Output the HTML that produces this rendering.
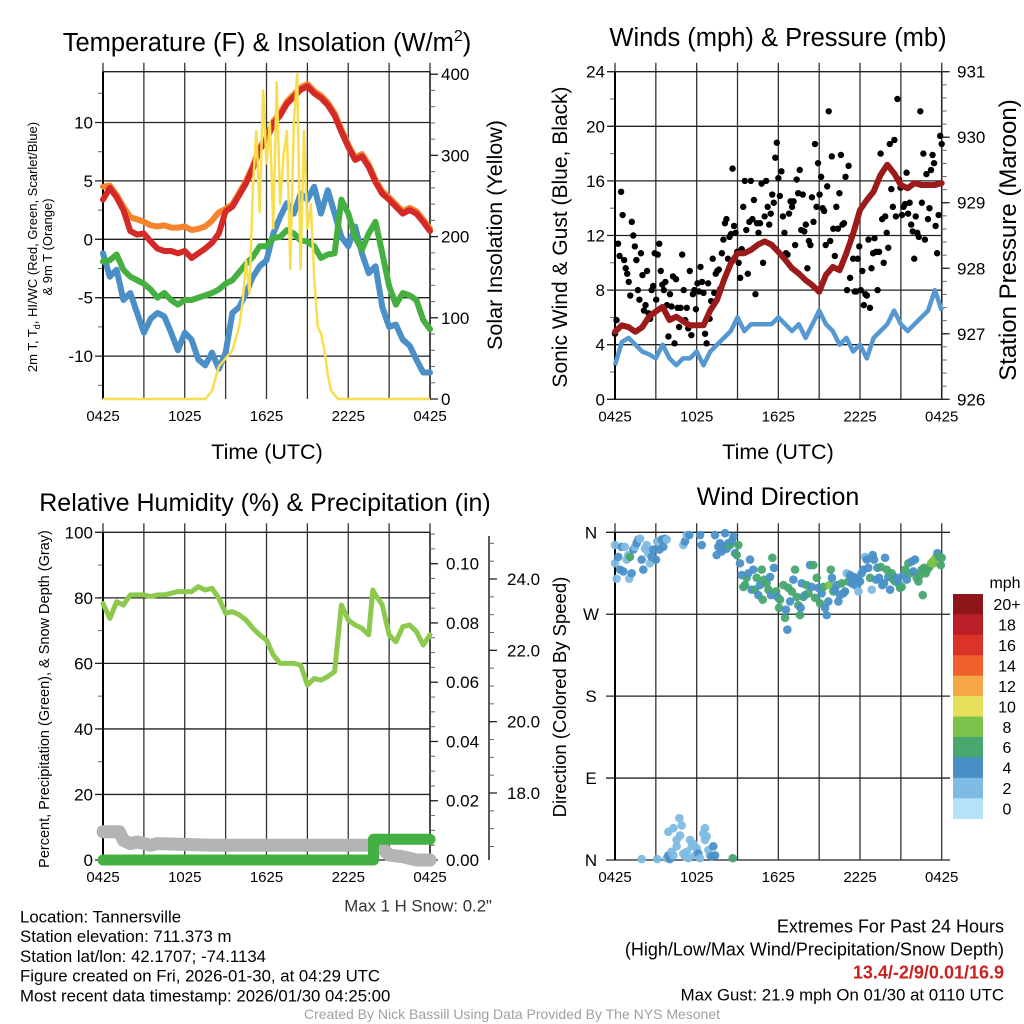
<!DOCTYPE html>
<html><head><meta charset="utf-8"><style>
html,body{margin:0;padding:0;background:#fff;}
svg{display:block;font-family:"Liberation Sans",Arial,sans-serif;}
</style></head><body>
<svg id="chart" width="1024" height="1024" viewBox="0 0 1024 1024" xmlns="http://www.w3.org/2000/svg">
<rect x="0" y="0" width="1024" height="1024" fill="#fff"/>
<text x="267" y="51" font-size="25.5" text-anchor="middle">Temperature (F) &amp; Insolation (W/m<tspan font-size="16" dy="-10">2</tspan><tspan dy="10">)</tspan></text>
<text x="778" y="46" font-size="25.5" text-anchor="middle">Winds (mph) &amp; Pressure (mb)</text>
<text x="265" y="511" font-size="25" text-anchor="middle">Relative Humidity (%) &amp; Precipitation (in)</text>
<text x="778" y="505" font-size="25" text-anchor="middle">Wind Direction</text>
<g id="layer"></g>
<g font-size="16.8">
<text x="20" y="922.5">Location: Tannersville</text>
<text x="20" y="942.2">Station elevation: 711.373 m</text>
<text x="20" y="961.9">Station lat/lon: 42.1707; -74.1134</text>
<text x="20" y="981.6">Figure created on Fri, 2026-01-30, at 04:29 UTC</text>
<text x="20" y="1001.3">Most recent data timestamp: 2026/01/30 04:25:00</text>
</g>
<g font-size="18" text-anchor="end">
<text x="1004" y="932.7">Extremes For Past 24 Hours</text>
<text x="1004" y="955.5">(High/Low/Max Wind/Precipitation/Snow Depth)</text>
<text x="1004" y="978.5" fill="#cc2020" font-weight="bold">13.4/-2/9/0.01/16.9</text>
<text x="1004" y="1000.5" font-size="16.8">Max Gust: 21.9 mph On 01/30 at 0110 UTC</text>
</g>
<text x="512" y="1019" font-size="14" fill="#a0a0a0" text-anchor="middle">Created By Nick Bassill Using Data Provided By The NYS Mesonet</text>
<text x="492" y="911.5" font-size="16.8" fill="#333" text-anchor="end">Max 1 H Snow: 0.2"</text>
</svg>
<script>
// ---------- data ----------
const xTickLabels = ["0425","1025","1625","2225","0425"];
const tempRed = [3.4,4.4,3.6,2.5,0.7,0.4,0.5,-0.2,-0.8,-1,-1,-1.2,-1,-1.6,-1.2,-0.8,-0.3,0.5,2.4,2.8,3.8,4.8,6.1,7.7,8.5,9.9,10.6,11.6,12.2,12.8,13.1,12.5,12.1,11.5,10.6,9.2,7.9,6.8,7.1,6.2,4.9,3.9,3.4,2.8,2.2,2.5,2.2,1.5,0.7];
const temp9mOrange = [4.5,4.6,3.8,2.8,1.9,1.7,1.5,1.2,1.1,1.2,1.0,1.0,1.1,0.8,0.9,1.1,1.6,2.3,2.6,3.0,4.0,5.0,6.3,7.9,8.7,10.1,10.8,11.8,12.4,13.0,13.3,12.7,12.3,11.7,10.8,9.4,8.1,7.0,7.3,6.4,5.1,4.1,3.6,3.0,2.4,2.7,2.4,1.7,0.9];
const dewGreen = [-1.9,-1.8,-1.3,-2.6,-3.2,-3.5,-3.8,-4.3,-5,-4.6,-5.2,-5.6,-5.2,-5.2,-5,-4.8,-4.6,-4.3,-3.8,-3.5,-2.8,-2.1,-1.5,-0.6,-0.6,0.1,0.2,0.8,0.5,-0.1,-0.2,-0.6,-1.6,-1.3,-1.2,3.4,2.2,0.2,-0.9,0.5,1.5,-1.2,-4,-5.6,-4.6,-4.8,-5.2,-6.9,-7.7];
const chillBlue = [-1.2,-3.2,-2.6,-5.2,-4.6,-6.3,-8,-6.8,-6.3,-6.6,-8,-9.5,-8,-8.6,-10.3,-10.8,-9.7,-11.1,-9.7,-6.3,-5.8,-4.6,-3.2,-2.3,-1.8,0.5,1.9,3.1,2.2,3.9,3.4,4.5,2.2,4.2,2.2,0.2,-0.6,1.1,-1.2,-2.9,-2.3,-5.8,-7.5,-7.3,-8.6,-9.1,-10.3,-11.4,-11.4];
const solarHours = [0,7.5,8,8.5,9,9.5,10,10.25,10.5,10.75,11,11.25,11.5,11.75,12,12.25,12.5,12.75,13,13.25,13.5,13.75,14,14.25,14.5,14.75,15,15.25,15.5,15.75,16,16.25,16.5,16.75,17,17.25,24];
const solarValues = [0,0,10,40,50,60,90,120,170,130,260,330,230,380,290,340,210,390,240,300,330,160,340,400,160,330,210,240,150,90,80,60,30,10,5,0,0];
const windSpeed = [2.5,4.2,4.5,4,3.5,3.3,3,4,3,2.5,3,3,3.5,2.5,3.5,4,4.5,5,6,5,5.5,5.5,5.5,5.5,6,5.5,5,5.5,4.5,5.5,6.5,5.5,5,4,4.5,3.5,4,3,4.5,5,5.5,6.5,5.5,5,5.5,6,6.5,8,6.5];
const gustValues = [4.8,5.8,11.4,10.5,15.2,13.5,10.2,9.6,9.2,8.6,7.6,13,12,11.2,10.2,8,7.3,10.7,9.1,6.5,6.9,9.4,6.3,5.9,8,8.3,10.7,7.3,10.6,11.4,9.4,8.4,8,8.6,6.9,4.6,7.7,6.8,9,4.1,8.8,6.7,5.3,6.7,10.6,8,5.8,6.7,5.2,9.4,4.7,7.7,8,6.6,8.5,7.9,9.7,8.6,7.8,4.8,4.1,8.5,5.9,7.2,10.3,7.8,9.2,9.4,9.5,8.1,10.7,11.7,12.9,13.2,10.3,11.9,12.1,16.9,12.7,12.2,10.8,10,8.9,11,14.1,16,12.4,9.2,13,16,13.2,14.6,7.7,12.9,12.2,12.9,15.8,10,13.4,16,14.1,12.8,13.6,15,14.4,17.7,18.8,16.2,14.9,16.7,13.4,12.2,10.7,10.6,13.6,14.5,14.1,14.5,11.3,16.1,15.1,16.8,12.4,15,12.3,12.8,9.6,11.6,11.3,14.8,13,18.7,14.1,17.3,15,16.3,14,13.8,11.3,15.6,21.1,11.6,17.8,12.5,10.5,14.1,12.5,15.1,17.9,12.8,12.9,16.3,8,17.1,8.9,11.9,10.3,7.9,7.9,10.3,11.2,8,9.4,6.9,7.7,7.6,11.7,6.7,9.6,10.7,11.8,10.8,8,10.8,18,13.2,10,13.4,12.2,11.1,18.7,15.4,14.1,19,13.4,22,16.1,15.5,13.5,14.1,14.3,16.6,13.6,14.4,12.8,12.3,10.3,13.4,12.2,11.9,21.1,14.4,18,11.7,16.5,13.2,14,16.8,17.9,17.3,12.7,10.7,13.5,19.3,18.7];
const pressure = [927.03,927.13,927.1,927.03,927.1,927.26,927.34,927.41,927.21,927.26,927.19,927.13,927.13,927.13,927.36,927.52,927.82,928.07,928.23,928.23,928.28,928.36,928.41,928.36,928.25,928.13,928,927.92,927.82,927.74,927.64,927.9,928.02,927.97,928.23,928.53,928.89,929.04,929.17,929.42,929.58,929.45,929.27,929.22,929.3,929.27,929.27,929.27,929.3];
const rhHours = [0,0.5,1,1.5,2,2.5,3,3.5,4,4.5,5,5.5,6,6.5,7,7.5,8,8.5,9,9.5,10,10.5,11,11.5,12,12.5,13,13.5,14,14.5,15,15.5,16,16.5,17,17.5,18,18.5,19,19.5,19.8,20,20.5,21,21.5,22,22.5,23,23.5,24];
const rhValues = [78.3,73.7,78.8,77.8,80.9,80.9,80.9,80.4,80.9,80.9,81.4,81.9,81.9,81.9,83.4,82.4,82.9,79.9,75.3,75.8,74.8,73.2,70.7,68.7,67.1,62.6,60,60,60,59.5,53.4,55.4,54.9,56,57.5,77.8,73.2,71.7,70.7,68.7,82.4,80.9,77.8,68.7,66.6,71.2,71.7,69.7,65.6,68.7];
const snowHours = [0,1.2,1.5,2,2.5,3,3.5,4,8,20,20.5,21,22,23,24];
const snowValues = [8.6,8.6,6,5,5.5,5,4.5,5,4.5,4.5,3.5,1.5,1,0,0];
const precipHours = [0,19.85,19.85,24];
const precipValues = [0,0,0.007,0.007];
const dirHours = [0,0,0.12,0.24,0.37,0.49,0.61,0.73,0.86,0.98,1.05,1.1,1.22,1.35,1.47,1.59,1.71,1.84,1.96,2.08,2.2,2.33,2.45,2.57,2.69,2.82,3.01,3.11,3.26,3.43,3.55,3.67,3.8,5.02,5.14,5.27,5.46,6.25,6.37,7.35,7.47,7.59,7.71,7.84,7.96,8.08,8.2,8.33,8.45,8.57,8.69,8.82,8.94,9.06,1.96,3.11,3.8,3.92,4.04,4.16,4.29,3.92,4.29,4.53,4.53,4.73,4.9,4.78,5.02,5.14,5.27,5.39,5.51,5.63,5.76,5.88,6,6.12,6.25,6.49,6.61,6.61,6.74,6.86,6.98,7.1,7.22,7.35,8.65,9.18,9.31,9.43,9.55,9.67,9.8,9.92,10.04,10.16,10.29,10.41,10.53,10.65,10.78,10.85,10.97,11.14,11.27,11.39,11.46,11.56,11.68,11.83,11.93,12.05,12.12,12.37,12.49,12.56,12.66,12.74,12.86,12.98,13.1,13.23,13.35,13.47,13.59,13.64,13.72,13.84,13.96,14.08,14.21,14.33,14.45,14.57,14.7,14.82,14.94,15.06,15.18,15.31,15.43,15.55,15.67,15.75,15.85,15.94,16.04,16.16,16.29,16.41,16.53,16.65,16.78,16.9,17.02,17.14,17.27,17.39,17.51,17.63,17.76,17.88,18,18.12,18.25,18.37,18.49,18.61,18.74,18.86,18.93,19.03,19.18,19.28,19.4,19.52,19.64,19.76,19.84,19.96,20.08,20.21,20.33,20.45,20.57,20.7,20.82,20.94,21.06,21.19,21.31,21.43,21.55,21.67,21.8,21.92,22.04,22.16,22.29,22.41,22.53,22.61,22.7,22.83,22.95,23.1,23.22,23.34,23.44,23.56,23.68,23.81,23.93,24];
const dirDegrees = [346,326,309,333,319,344,317,344,330,335,309,333,315,341,344,348,352,353,330,319,342,346,337,326,333,341,330,350,341,352,344,353,352,346,350,357,357,357,346,357,335,344,348,339,344,359,342,348,346,350,355,337,335,346,1,1,2,5,1,9,5,31,35,22,15,46,38,27,7,4,9,2,22,15,18,5,13,7,2,29,35,22,26,11,5,4,15,5,2,326,313,300,302,310,315,330,297,319,297,310,291,302,319,286,308,304,297,311,291,332,321,295,289,277,286,302,266,275,253,299,284,295,308,319,289,280,269,277,304,289,291,302,293,324,300,324,288,310,299,282,293,300,277,269,284,302,319,310,295,297,302,284,291,304,293,295,315,306,313,304,311,302,310,295,306,315,319,333,330,321,310,297,335,330,308,321,310,322,302,304,332,319,311,297,315,308,306,310,304,299,300,313,319,308,326,315,328,317,330,310,306,313,319,291,321,315,319,322,326,328,326,332,337,333,324,332];
const dirSpeeds = [3,3,3,5,5,5,5,3,3,3,3,7,5,5,3,5,5,3,5,5,3,3,3,3,5,5,5,3,5,5,5,5,3,3,5,3,5,5,5,5,5,5,5,5,5,5,5,5,7,5,5,5,7,7,3,3,3,5,5,3,3,3,3,3,3,3,3,3,3,3,3,3,3,3,3,3,3,5,3,3,3,3,3,3,3,5,5,5,7,5,5,7,7,7,5,5,5,5,7,7,5,5,7,7,7,7,7,5,5,7,5,7,5,7,7,7,7,5,5,7,5,7,5,7,7,7,7,5,5,7,5,7,7,5,5,7,7,7,5,7,5,7,5,5,5,9,7,5,7,5,5,5,5,7,5,5,3,7,5,5,5,5,5,3,5,5,5,3,5,5,7,3,5,5,5,5,5,7,5,5,5,7,5,5,7,7,7,5,5,7,7,5,7,5,7,7,5,5,5,7,7,7,7,7,7,7,7,7,9,9,9,9,5,7,7,7];
const colorbarLabels = ["20+","18","16","14","12","10","8","6","4","2","0"];
const colorbarColors = ["#8e1518","#bb1e26","#dc3328","#ee612d","#f5a845","#e6e05b","#7cc24a","#48a76f","#4a90c8","#80bbe3","#b5e2f8"];

// ---------- helpers ----------
const NS = "http://www.w3.org/2000/svg";
const layer = document.getElementById('layer');
const TICK_FS = 17;
function el(tag, attrs, parent){ const e=document.createElementNS(NS,tag); for(const k in attrs) e.setAttribute(k,attrs[k]); (parent||layer).appendChild(e); return e; }
function txt(s, attrs, parent){ const e=el('text',attrs,parent); e.textContent=s; return e; }
function scale(d0,d1,r0,r1){ return v => r0 + (v-d0)/(d1-d0)*(r1-r0); }
function linePath(xs, ys){ return xs.map((x,i)=>(i?'L':'M')+x.toFixed(1)+','+ys[i].toFixed(1)).join(''); }
const halfHours = tempRed.map((_,i)=>i*0.5);

function frame(p, name){
  const g = el('g',{});
  
  
  for(let h=0; h<=24; h+=3){
    const x=p.sx(h);
    const ln = el('line',{x1:x,y1:p.y0-9,x2:x,y2:p.y1,stroke:'#333','stroke-width':1.3},g);
    
    
  }
  xTickLabels.forEach((s,i)=>{
    const t = txt(s,{x:p.sx(i*6),y:p.y1+22,'font-size':15,'text-anchor':'middle'},g);
    
    
  });
  return g;
}
function leftAxis(p, g, majors, minors, sy, fmt){
  minors.forEach(v=>{ const y=sy(v); el('line',{x1:p.x0-5,y1:y,x2:p.x0,y2:y,stroke:'#666','stroke-width':1},g); });
  majors.forEach(v=>{ const y=sy(v);
    const ln=el('line',{x1:p.x0-8,y1:y,x2:p.x1,y2:y,stroke:'#222','stroke-width':1.3},g);
    
    
    const t=txt(fmt(v),{x:p.x0-10,y:y+6,'font-size':TICK_FS,'text-anchor':'end'},g);
    
    
  });
  el('line',{x1:p.x0,y1:p.y0,x2:p.x0,y2:p.y1,stroke:'#000','stroke-width':2},g);
}
function rightAxis(x, y0, y1, g, majors, minors, sy, fmt, lx){
  el('line',{x1:x,y1:y0,x2:x,y2:y1,stroke:'#222','stroke-width':1.5},g);
  minors.forEach(v=>{ const y=sy(v); if(y<y0-0.5||y>y1+0.5) return; el('line',{x1:x,y1:y,x2:x+5,y2:y,stroke:'#666','stroke-width':1},g); });
  majors.forEach(v=>{ const y=sy(v); el('line',{x1:x,y1:y,x2:x+8,y2:y,stroke:'#222','stroke-width':1.3},g);
    const t=txt(fmt(v),{x:lx,y:y+6,'font-size':TICK_FS},g);
    
    
  });
}
function range(a,b,s){ const r=[]; for(let v=a; v<=b+1e-9; v+=s) r.push(+v.toFixed(4)); return r; }
function rotText(s,x,y,size,name){
  const t=txt(s,{x:x,y:y,'font-size':size,'text-anchor':'middle',transform:`rotate(-90 ${x} ${y})`});
  
  
  return t;
}

// ---------- Panel 1: temperature ----------
(function(){
  const p={x0:103,x1:430,y0:71.7,y1:399};
  p.sx=scale(0,24,p.x0,p.x1);
  const sy=scale(0,5,239.3,180.9);
  const sr=scale(0,400,399,74.2);
  const g=frame(p,'temperature-panel');
  el('line',{x1:p.x0,y1:p.y0,x2:p.x1,y2:p.y0,stroke:'#222','stroke-width':1.3},g);
  leftAxis(p,g,[-10,-5,0,5,10],range(-12.5,12.5,2.5),sy,v=>String(v));
  rightAxis(p.x1,p.y0,p.y1,g,[0,100,200,300,400],range(0,400,20),sr,v=>String(v),441);
  const series=[[chillBlue,'#4a8fc7','wind-chill-line'],[dewGreen,'#45b03f','dewpoint-line'],[temp9mOrange,'#f5842c','temp-9m-line'],[tempRed,'#d42a27','temp-2m-line']];
  series.forEach(s=>{
    const pth=el('path',{d:linePath(halfHours.map(p.sx),s[0].map(sy)),fill:'none',stroke:s[1],'stroke-width':6,'stroke-linejoin':'round','stroke-linecap':'round'});
    
    
  });
  const sol=el('path',{d:linePath(solarHours.map(p.sx),solarValues.map(sr)),fill:'none',stroke:'#f8de4f','stroke-width':2.5,'stroke-linejoin':'round'});
  
  
  const t1=txt('Time (UTC)',{x:267,y:459,'font-size':21.5,'text-anchor':'middle'});
  
  
  const yt=txt('',{x:37,y:247,'font-size':13,'text-anchor':'middle',transform:'rotate(-90 37 247)'});
  
  
  yt.innerHTML='2m T, T<tspan font-size="9" dy="3">d</tspan><tspan dy="-3">, HI/WC (Red, Green, Scarlet/Blue)</tspan>';
  rotText('& 9m T (Orange)',52,247,13,'temperature-y-axis-title-line2');
  rotText('Solar Insolation (Yellow)',502,235,21.5,'solar-y-axis-title');
})();

// ---------- Panel 2: winds ----------
(function(){
  const p={x0:615,x1:941.7,y0:71.7,y1:399.3};
  p.sx=scale(0,24,p.x0,p.x1);
  const sy=scale(0,24,p.y1,p.y0);
  const sp=scale(926,931,p.y1,p.y0);
  const g=frame(p,'winds-panel');
  leftAxis(p,g,[0,4,8,12,16,20,24],range(0,24,2),sy,v=>String(v));
  rightAxis(p.x1,p.y0,p.y1,g,[926,927,928,929,930,931],range(926,931,0.2),sp,v=>String(v),957);
  const w=el('path',{d:linePath(halfHours.map(p.sx),windSpeed.map(sy)),fill:'none',stroke:'#5598d2','stroke-width':4.5,'stroke-linejoin':'round'});
  
  
  gustValues.forEach((v,i)=>{
    const c=el('circle',{cx:p.sx(i*24/(gustValues.length-1)),cy:sy(v),r:3.2,fill:'#000'});
    
    
  });
  const pr=el('path',{d:linePath(halfHours.map(p.sx),pressure.map(sp)),fill:'none',stroke:'#9b1b1b','stroke-width':6,'stroke-linejoin':'round','stroke-linecap':'round'});
  
  
  const t=txt('Time (UTC)',{x:778,y:459,'font-size':21.5,'text-anchor':'middle'});
  
  
  rotText('Sonic Wind & Gust (Blue, Black)',567,237,21,'wind-y-axis-title');
  rotText('Station Pressure (Maroon)',1016,240,24,'pressure-y-axis-title');
})();

// ---------- Panel 3: humidity ----------
(function(){
  const p={x0:103,x1:430,y0:532.3,y1:860};
  p.sx=scale(0,24,p.x0,p.x1);
  const sy=scale(0,100,p.y1,p.y0);
  const sprec=scale(0,0.1,860,563.7);
  const ssnow=scale(18,24,793,579);
  const g=frame(p,'humidity-panel');
  leftAxis(p,g,[0,20,40,60,80,100],range(0,100,10),sy,v=>String(v));
  rightAxis(p.x1,p.y0,p.y1,g,[0,0.02,0.04,0.06,0.08,0.1],range(0,0.11,0.005),sprec,v=>v.toFixed(2),446);
  rightAxis(489,536,860,g,[18,20,22,24],range(16.5,25,0.5),ssnow,v=>v.toFixed(1),507);
  const rh=el('path',{d:linePath(rhHours.map(p.sx),rhValues.map(sy)),fill:'none',stroke:'#8dc94c','stroke-width':5,'stroke-linejoin':'round','stroke-linecap':'round'});
  
  
  const sn=el('path',{d:linePath(snowHours.map(p.sx),snowValues.map(sy)),fill:'none',stroke:'#b4b4b4','stroke-width':13,'stroke-linejoin':'round','stroke-linecap':'round'});
  
  
  const pc=el('path',{d:linePath(precipHours.map(p.sx),precipValues.map(sprec)),fill:'none',stroke:'#44b044','stroke-width':11,'stroke-linejoin':'round','stroke-linecap':'round'});
  
  
  rotText('Percent, Precipitation (Green), & Snow Depth (Gray)',49,699,14.5,'humidity-y-axis-title');
})();

// ---------- Panel 4: wind direction ----------
(function(){
  const p={x0:615,x1:941.7,y0:532.3,y1:860};
  p.sx=scale(0,24,p.x0,p.x1);
  const sy=scale(0,360,p.y1,p.y0);
  const g=frame(p,'wind-direction-panel');
  const dirLabels=['N','E','S','W','N'];
  [0,90,180,270,360].forEach((v,i)=>{
    const y=sy(v);
    el('line',{x1:606,y1:y,x2:950,y2:y,stroke:'#222','stroke-width':1.3},g);
    const t=txt(dirLabels[i],{x:591,y:y+6,'font-size':TICK_FS,'text-anchor':'middle'},g);
    
    
  });
  el('line',{x1:p.x0,y1:p.y0,x2:p.x0,y2:p.y1,stroke:'#000','stroke-width':2},g);
  function colorFor(s){ const idx=Math.min(10,Math.floor(s/2)); return colorbarColors[10-idx]; }
  dirHours.forEach((h,i)=>{
    const c=el('circle',{cx:p.sx(h),cy:sy(dirDegrees[i]),r:4.3,fill:colorFor(dirSpeeds[i]),'fill-opacity':0.95});
    
    
  });
  rotText('Direction (Colored By Speed)',566,697,18.5,'direction-y-axis-title');
  const mph=txt('mph',{x:1005,y:588,'font-size':16,'text-anchor':'middle'});
  
  
  const bh=(818.7-594)/colorbarLabels.length;
  colorbarLabels.forEach((lab,i)=>{
    const r=el('rect',{x:953,y:594+i*bh,width:30,height:bh+0.3,fill:colorbarColors[i]});
    
    
    const t=txt(lab,{x:1007,y:594+i*bh+bh/2+6,'font-size':16,'text-anchor':'middle'});
    
    
  });
})();
</script>
</body></html>
